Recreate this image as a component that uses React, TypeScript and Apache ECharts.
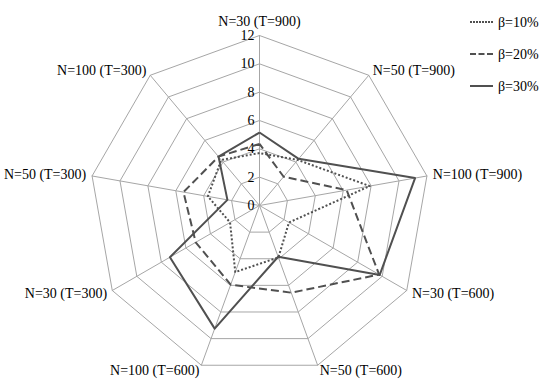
import React, { useEffect, useRef } from "react";
import * as echarts from "echarts";

const categories = [
  "N=30 (T=900)",
  "N=50 (T=900)",
  "N=100 (T=900)",
  "N=30 (T=600)",
  "N=50 (T=600)",
  "N=100 (T=600)",
  "N=30 (T=300)",
  "N=50 (T=300)",
  "N=100 (T=300)",
];
const beta10 = [3.7, 4.2, 7.9, 2.4, 3.9, 5.0, 2.4, 3.7, 4.2];
const beta20 = [4.35, 2.65, 6.25, 9.75, 6.55, 5.95, 5.2, 5.45, 4.5];
const beta30 = [5.15, 4.3, 11.15, 9.8, 3.85, 9.25, 7.3, 2.3, 4.5];
const seriesNames = ["β=10%", "β=20%", "β=30%"];
const axisMax = 12;

// reference runs clockwise; ECharts radar runs counter-clockwise
const order = [0, 8, 7, 6, 5, 4, 3, 2, 1];
const reorder = (a: any[]) => order.map((i) => a[i]);

const FONT = "Liberation Serif";

const dottedIcon =
  "path://" +
  [0, 3, 6, 9, 12, 15, 18, 21].map((x) => `M${x},0h2v2h-2z`).join("");
const dashedIcon = "path://M0,0h6v2h-6zM8.5,0h6v2h-6zM17,0h6v2h-6z";
const solidIcon = "path://M0,0h23v2h-23z";

export default function App() {
  const ref = useRef<HTMLDivElement>(null);
  useEffect(() => {
    const chart = echarts.init(ref.current!, null, { renderer: "svg" });
    const indicator = reorder(categories).map((name, i) =>
      i === 0
        ? {
            name,
            max: axisMax,
            min: 0,
            axisLabel: {
              show: true,
              fontFamily: FONT,
              fontSize: 14,
              color: "#000",
              margin: 5,
              showMaxLabel: true,
              showMinLabel: true,
            },
          }
        : { name, max: axisMax, min: 0 }
    );
    const styles = ["dotted", "dashed", "solid"];
    const icons = [dottedIcon, dashedIcon, solidIcon];
    const data = [beta10, beta20, beta30];
    chart.setOption({
      animation: false,
      backgroundColor: "#fff",
      legend: {
        orient: "vertical",
        left: 465,
        top: 10,
        itemWidth: 23,
        itemHeight: 2,
        itemGap: 18,
        data: seriesNames.map((n, k) => ({ name: n, icon: icons[k] })),
        textStyle: { fontFamily: FONT, fontSize: 14, color: "#000", lineHeight: 14 },
      },
      radar: {
        center: [259.5, 205.5],
        radius: 170,
        startAngle: 90,
        splitNumber: 6,
        shape: "polygon",
        indicator,
        axisName: { color: "#000", fontFamily: FONT, fontSize: 14 },
        nameGap: 6,
        axisLine: { lineStyle: { color: "#a6a6a6", width: 1 } },
        splitLine: { lineStyle: { color: "#a6a6a6", width: 1 } },
        splitArea: { show: false },
        axisTick: { show: false },
        axisLabel: { show: false },
      },
      series: [
        {
          type: "radar",
          symbol: "none",
          data: seriesNames.map((n, k) => ({
            name: n,
            value: reorder(data[k]),
            lineStyle: { color: "#505050", width: 2, type: styles[k] },
            itemStyle: { color: "#505050" },
          })),
        },
      ],
    });
    return () => chart.dispose();
  }, []);
  return (
    <div
      ref={ref}
      style={{ position: "fixed", left: 0, top: 0, width: 550, height: 390 }}
    />
  );
}
